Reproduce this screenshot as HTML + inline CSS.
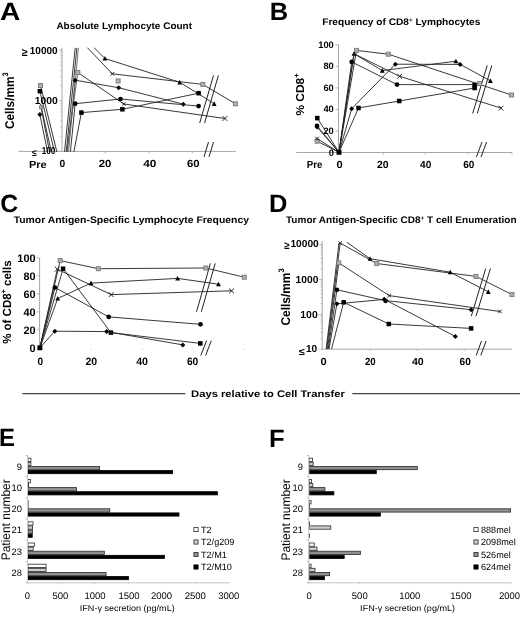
<!DOCTYPE html>
<html><head><meta charset="utf-8"><style>
html,body{margin:0;padding:0;background:#fff;}
svg{display:block;will-change:transform;}
text{font-family:"Liberation Sans",sans-serif;fill:#000;text-rendering:geometricPrecision;}
</style></head><body>
<svg width="520" height="617" viewBox="0 0 520 617">
<rect width="520" height="617" fill="#fff"/>
<line x1="62.0" y1="48.0" x2="62.0" y2="151.5" stroke="#a6a6a6" stroke-width="1"/>
<line x1="18.5" y1="151.4" x2="235.7" y2="151.4" stroke="#a6a6a6" stroke-width="1"/>
<line x1="59.0" y1="100.8" x2="62.0" y2="100.8" stroke="#a6a6a6" stroke-width="0.8"/>
<line x1="60.4" y1="85.6" x2="62.0" y2="85.6" stroke="#a6a6a6" stroke-width="0.8"/>
<line x1="60.4" y1="76.7" x2="62.0" y2="76.7" stroke="#a6a6a6" stroke-width="0.8"/>
<line x1="60.4" y1="70.3" x2="62.0" y2="70.3" stroke="#a6a6a6" stroke-width="0.8"/>
<line x1="60.4" y1="65.4" x2="62.0" y2="65.4" stroke="#a6a6a6" stroke-width="0.8"/>
<line x1="60.4" y1="61.4" x2="62.0" y2="61.4" stroke="#a6a6a6" stroke-width="0.8"/>
<line x1="60.4" y1="58.0" x2="62.0" y2="58.0" stroke="#a6a6a6" stroke-width="0.8"/>
<line x1="60.4" y1="55.1" x2="62.0" y2="55.1" stroke="#a6a6a6" stroke-width="0.8"/>
<line x1="60.4" y1="52.5" x2="62.0" y2="52.5" stroke="#a6a6a6" stroke-width="0.8"/>
<line x1="59.0" y1="151.4" x2="62.0" y2="151.4" stroke="#a6a6a6" stroke-width="0.8"/>
<line x1="60.4" y1="136.2" x2="62.0" y2="136.2" stroke="#a6a6a6" stroke-width="0.8"/>
<line x1="60.4" y1="127.3" x2="62.0" y2="127.3" stroke="#a6a6a6" stroke-width="0.8"/>
<line x1="60.4" y1="120.9" x2="62.0" y2="120.9" stroke="#a6a6a6" stroke-width="0.8"/>
<line x1="60.4" y1="116.0" x2="62.0" y2="116.0" stroke="#a6a6a6" stroke-width="0.8"/>
<line x1="60.4" y1="112.0" x2="62.0" y2="112.0" stroke="#a6a6a6" stroke-width="0.8"/>
<line x1="60.4" y1="108.6" x2="62.0" y2="108.6" stroke="#a6a6a6" stroke-width="0.8"/>
<line x1="60.4" y1="105.7" x2="62.0" y2="105.7" stroke="#a6a6a6" stroke-width="0.8"/>
<line x1="60.4" y1="103.1" x2="62.0" y2="103.1" stroke="#a6a6a6" stroke-width="0.8"/>
<line x1="59.0" y1="50.2" x2="62.0" y2="50.2" stroke="#a6a6a6" stroke-width="0.8"/>
<line x1="105.2" y1="151.4" x2="105.2" y2="153.5" stroke="#a6a6a6" stroke-width="0.8"/>
<line x1="148.9" y1="151.4" x2="148.9" y2="153.5" stroke="#a6a6a6" stroke-width="0.8"/>
<line x1="192.3" y1="151.4" x2="192.3" y2="153.5" stroke="#a6a6a6" stroke-width="0.8"/>
<line x1="204.0" y1="157.0" x2="208.5" y2="142.0" stroke="#222" stroke-width="1.0"/>
<line x1="209.0" y1="157.0" x2="213.5" y2="142.0" stroke="#222" stroke-width="1.0"/>
<line x1="199.7" y1="123.0" x2="213.5" y2="75.4" stroke="#222" stroke-width="1.0"/>
<line x1="204.6" y1="123.0" x2="218.4" y2="75.4" stroke="#222" stroke-width="1.0"/>
<polyline points="39.9,114.6 47.6,152.0" fill="none" stroke="#222" stroke-width="0.9"/>
<polyline points="41.1,107.3 49.6,152.0" fill="none" stroke="#222" stroke-width="0.9"/>
<polyline points="40.5,104.0 51.4,152.0" fill="none" stroke="#222" stroke-width="0.9"/>
<polyline points="39.9,91.2 54.5,152.0" fill="none" stroke="#222" stroke-width="0.9"/>
<polyline points="40.5,85.5 56.9,152.0" fill="none" stroke="#222" stroke-width="0.9"/>
<rect x="38.50" y="83.50" width="4.00" height="4.00" fill="#b0b0b0" stroke="#808080" stroke-width="1"/>
<rect x="37.65" y="88.95" width="4.50" height="4.50" fill="#000"/>
<rect x="39.60" y="105.80" width="3.00" height="3.00" fill="#b0b0b0" stroke="#808080" stroke-width="1"/>
<polygon points="39.90,112.10 42.40,114.60 39.90,117.10 37.40,114.60" fill="#000"/>
<polyline points="64.5,151.8 75.2,47.9" fill="none" stroke="#222" stroke-width="0.9"/>
<polyline points="66.2,151.8 76.9,47.9" fill="none" stroke="#222" stroke-width="0.9"/>
<polyline points="66.8,151.8 77.8,72.5" fill="none" stroke="#444" stroke-width="0.8"/>
<polyline points="67.4,151.8 75.2,80.2" fill="none" stroke="#444" stroke-width="0.8"/>
<polyline points="68.6,151.8 78.4,47.9" fill="none" stroke="#555" stroke-width="0.8"/>
<polyline points="70.4,151.8 75.2,103.7" fill="none" stroke="#222" stroke-width="0.9"/>
<polyline points="73.9,151.8 81.4,112.6" fill="none" stroke="#222" stroke-width="0.9"/>
<polyline points="94.2,47.7 104.9,58.5 179.7,82.3 198.6,93.8 214.2,103.8" fill="none" stroke="#222" stroke-width="0.9"/>
<polygon points="104.90,56.00 107.30,60.60 102.50,60.60" fill="#000"/>
<polygon points="179.70,79.80 182.10,84.40 177.30,84.40" fill="#000"/>
<polygon points="214.20,101.30 216.60,105.90 211.80,105.90" fill="#000"/>
<polyline points="87.4,47.7 112.3,73.8 202.8,84.4 235.4,103.8" fill="none" stroke="#222" stroke-width="0.9"/>
<path d="M110.50,72.00L114.10,75.60M114.10,72.00L110.50,75.60" stroke="#111" stroke-width="0.9"/>
<rect x="200.80" y="82.40" width="4.00" height="4.00" fill="#b0b0b0" stroke="#808080" stroke-width="1"/>
<rect x="233.40" y="101.80" width="4.00" height="4.00" fill="#b0b0b0" stroke="#808080" stroke-width="1"/>
<polyline points="77.8,72.5 123.8,104.0 224.9,118.5" fill="none" stroke="#222" stroke-width="0.9"/>
<rect x="75.80" y="70.50" width="4.00" height="4.00" fill="#b0b0b0" stroke="#808080" stroke-width="1"/>
<path d="M121.95,102.20L125.55,105.80M125.55,102.20L121.95,105.80" stroke="#111" stroke-width="0.9"/>
<path d="M222.50,116.10L227.30,120.90M227.30,116.10L222.50,120.90" stroke="#111" stroke-width="0.9"/>
<polyline points="75.2,80.2 118.6,87.7 183.3,104.2" fill="none" stroke="#222" stroke-width="0.9"/>
<polygon points="75.20,77.70 77.70,80.20 75.20,82.70 72.70,80.20" fill="#000"/>
<polygon points="118.60,85.20 121.10,87.70 118.60,90.20 116.10,87.70" fill="#000"/>
<polygon points="183.30,101.70 185.80,104.20 183.30,106.70 180.80,104.20" fill="#000"/>
<polyline points="75.2,103.7 120.5,99.0 198.6,106.1" fill="none" stroke="#222" stroke-width="0.9"/>
<circle cx="75.20" cy="103.70" r="2.35" fill="#000"/>
<circle cx="120.50" cy="99.00" r="2.35" fill="#000"/>
<circle cx="198.60" cy="106.10" r="2.35" fill="#000"/>
<polyline points="81.4,112.6 122.4,109.3 198.6,93.2" fill="none" stroke="#222" stroke-width="0.9"/>
<rect x="79.15" y="110.35" width="4.50" height="4.50" fill="#000"/>
<rect x="120.15" y="107.05" width="4.50" height="4.50" fill="#000"/>
<rect x="196.35" y="90.95" width="4.50" height="4.50" fill="#000"/>
<rect x="116.10" y="79.00" width="4.00" height="4.00" fill="#b0b0b0" stroke="#808080" stroke-width="1"/>
<line x1="338.5" y1="44.5" x2="338.5" y2="152.5" stroke="#a6a6a6" stroke-width="1"/>
<line x1="296.3" y1="152.5" x2="512.0" y2="152.5" stroke="#a6a6a6" stroke-width="1"/>
<line x1="335.5" y1="152.5" x2="338.5" y2="152.5" stroke="#a6a6a6" stroke-width="0.8"/>
<text x="333.8" y="155.5" font-size="9.3" font-weight="bold" text-anchor="end">0</text>
<line x1="335.5" y1="131.0" x2="338.5" y2="131.0" stroke="#a6a6a6" stroke-width="0.8"/>
<text x="333.8" y="133.98" font-size="9.3" font-weight="bold" text-anchor="end">20</text>
<line x1="335.5" y1="109.5" x2="338.5" y2="109.5" stroke="#a6a6a6" stroke-width="0.8"/>
<text x="333.8" y="112.46" font-size="9.3" font-weight="bold" text-anchor="end">40</text>
<line x1="335.5" y1="87.9" x2="338.5" y2="87.9" stroke="#a6a6a6" stroke-width="0.8"/>
<text x="333.8" y="90.94" font-size="9.3" font-weight="bold" text-anchor="end">60</text>
<line x1="335.5" y1="66.4" x2="338.5" y2="66.4" stroke="#a6a6a6" stroke-width="0.8"/>
<text x="333.8" y="69.42" font-size="9.3" font-weight="bold" text-anchor="end">80</text>
<line x1="335.5" y1="44.9" x2="338.5" y2="44.9" stroke="#a6a6a6" stroke-width="0.8"/>
<text x="333.8" y="47.9" font-size="9.3" font-weight="bold" text-anchor="end">100</text>
<line x1="383.5" y1="152.5" x2="383.5" y2="154.5" stroke="#a6a6a6" stroke-width="0.8"/>
<line x1="425.2" y1="152.5" x2="425.2" y2="154.5" stroke="#a6a6a6" stroke-width="0.8"/>
<line x1="467.9" y1="152.5" x2="467.9" y2="154.5" stroke="#a6a6a6" stroke-width="0.8"/>
<line x1="512.0" y1="152.5" x2="512.0" y2="154.5" stroke="#a6a6a6" stroke-width="0.8"/>
<line x1="476.4" y1="157.0" x2="482.0" y2="142.0" stroke="#222" stroke-width="1.0"/>
<line x1="481.0" y1="157.0" x2="486.6" y2="142.0" stroke="#222" stroke-width="1.0"/>
<line x1="472.7" y1="113.4" x2="487.2" y2="65.4" stroke="#222" stroke-width="1.0"/>
<line x1="477.3" y1="113.4" x2="491.8" y2="65.4" stroke="#222" stroke-width="1.0"/>
<polyline points="317.1,141.2 339.0,152.3 356.5,50.4 388.3,54.2 511.5,95.0" fill="none" stroke="#222" stroke-width="0.9"/>
<rect x="315.10" y="139.20" width="4.00" height="4.00" fill="#b0b0b0" stroke="#808080" stroke-width="1"/>
<rect x="354.50" y="48.40" width="4.00" height="4.00" fill="#b0b0b0" stroke="#808080" stroke-width="1"/>
<rect x="386.30" y="52.20" width="4.00" height="4.00" fill="#b0b0b0" stroke="#808080" stroke-width="1"/>
<rect x="509.50" y="93.00" width="4.00" height="4.00" fill="#b0b0b0" stroke="#808080" stroke-width="1"/>
<polyline points="339.0,152.3 354.0,53.7 382.3,70.6 455.9,61.2 460.2,64.4 490.4,80.8" fill="none" stroke="#222" stroke-width="0.9"/>
<polygon points="354.00,51.20 356.40,55.80 351.60,55.80" fill="#000"/>
<polygon points="382.30,68.10 384.70,72.70 379.90,72.70" fill="#000"/>
<polygon points="455.90,58.70 458.30,63.30 453.50,63.30" fill="#000"/>
<polygon points="490.40,78.30 492.80,82.90 488.00,82.90" fill="#000"/>
<polyline points="317.0,138.5 339.0,152.3 354.0,53.7 399.6,76.3 501.0,108.1" fill="none" stroke="#222" stroke-width="0.9"/>
<path d="M315.20,136.70L318.80,140.30M318.80,136.70L315.20,140.30" stroke="#111" stroke-width="0.9"/>
<path d="M397.20,73.90L402.00,78.70M402.00,73.90L397.20,78.70" stroke="#111" stroke-width="0.9"/>
<path d="M498.60,105.70L503.40,110.50M503.40,105.70L498.60,110.50" stroke="#111" stroke-width="0.9"/>
<polyline points="317.0,125.8 339.0,152.3 351.7,61.9 397.0,84.6 474.6,84.6" fill="none" stroke="#222" stroke-width="0.9"/>
<circle cx="317.00" cy="125.80" r="2.35" fill="#000"/>
<circle cx="351.70" cy="61.90" r="2.35" fill="#000"/>
<circle cx="397.00" cy="84.60" r="2.35" fill="#000"/>
<polyline points="317.1,127.0 339.0,152.3 351.7,108.7 395.4,64.2 460.2,64.4" fill="none" stroke="#222" stroke-width="0.9"/>
<polygon points="317.10,124.50 319.60,127.00 317.10,129.50 314.60,127.00" fill="#000"/>
<polygon points="351.70,106.20 354.20,108.70 351.70,111.20 349.20,108.70" fill="#000"/>
<polygon points="395.40,61.70 397.90,64.20 395.40,66.70 392.90,64.20" fill="#000"/>
<polygon points="460.20,61.90 462.70,64.40 460.20,66.90 457.70,64.40" fill="#000"/>
<polyline points="317.3,118.1 339.0,152.3 358.5,108.0 399.2,101.0 474.6,88.0" fill="none" stroke="#222" stroke-width="0.9"/>
<rect x="315.05" y="115.85" width="4.50" height="4.50" fill="#000"/>
<rect x="356.25" y="105.75" width="4.50" height="4.50" fill="#000"/>
<rect x="396.95" y="98.75" width="4.50" height="4.50" fill="#000"/>
<rect x="472.35" y="85.75" width="4.50" height="4.50" fill="#000"/>
<rect x="472.35" y="82.75" width="4.50" height="4.50" fill="#000"/>
<rect x="477.60" y="81.50" width="4.00" height="4.00" fill="#b0b0b0" stroke="#808080" stroke-width="1"/>
<rect x="336.52" y="149.83" width="4.95" height="4.95" fill="#000"/>
<line x1="39.6" y1="258.0" x2="39.6" y2="348.0" stroke="#a6a6a6" stroke-width="1"/>
<line x1="36.8" y1="347.8" x2="39.6" y2="347.8" stroke="#a6a6a6" stroke-width="0.8"/>
<text x="35.5" y="351.8" font-size="10.9" font-weight="bold" text-anchor="end">0</text>
<line x1="36.8" y1="329.8" x2="39.6" y2="329.8" stroke="#a6a6a6" stroke-width="0.8"/>
<text x="35.5" y="333.8" font-size="10.9" font-weight="bold" text-anchor="end">20</text>
<line x1="36.8" y1="311.8" x2="39.6" y2="311.8" stroke="#a6a6a6" stroke-width="0.8"/>
<text x="35.5" y="315.8" font-size="10.9" font-weight="bold" text-anchor="end">40</text>
<line x1="36.8" y1="293.8" x2="39.6" y2="293.8" stroke="#a6a6a6" stroke-width="0.8"/>
<text x="35.5" y="297.8" font-size="10.9" font-weight="bold" text-anchor="end">60</text>
<line x1="36.8" y1="275.8" x2="39.6" y2="275.8" stroke="#a6a6a6" stroke-width="0.8"/>
<text x="35.5" y="279.8" font-size="10.9" font-weight="bold" text-anchor="end">80</text>
<line x1="36.8" y1="257.8" x2="39.6" y2="257.8" stroke="#a6a6a6" stroke-width="0.8"/>
<text x="35.5" y="261.8" font-size="10.9" font-weight="bold" text-anchor="end">100</text>
<line x1="90.8" y1="348.5" x2="90.8" y2="350.0" stroke="#ccc" stroke-width="0.8"/>
<line x1="142.6" y1="348.5" x2="142.6" y2="350.0" stroke="#ccc" stroke-width="0.8"/>
<line x1="192.3" y1="348.5" x2="192.3" y2="350.0" stroke="#ccc" stroke-width="0.8"/>
<line x1="244.1" y1="348.5" x2="244.1" y2="350.0" stroke="#ccc" stroke-width="0.8"/>
<line x1="200.8" y1="355.5" x2="206.5" y2="340.7" stroke="#222" stroke-width="1.0"/>
<line x1="205.6" y1="355.5" x2="211.3" y2="340.7" stroke="#222" stroke-width="1.0"/>
<line x1="196.5" y1="311.8" x2="210.4" y2="263.4" stroke="#222" stroke-width="1.0"/>
<line x1="201.3" y1="311.8" x2="215.2" y2="263.4" stroke="#222" stroke-width="1.0"/>
<polyline points="39.9,347.8 60.2,260.6 98.3,268.7 205.8,268.0 244.3,277.2" fill="none" stroke="#222" stroke-width="0.9"/>
<rect x="58.20" y="258.60" width="4.00" height="4.00" fill="#b0b0b0" stroke="#808080" stroke-width="1"/>
<rect x="96.30" y="266.70" width="4.00" height="4.00" fill="#b0b0b0" stroke="#808080" stroke-width="1"/>
<rect x="203.80" y="266.00" width="4.00" height="4.00" fill="#b0b0b0" stroke="#808080" stroke-width="1"/>
<rect x="242.30" y="275.20" width="4.00" height="4.00" fill="#b0b0b0" stroke="#808080" stroke-width="1"/>
<polyline points="39.9,347.8 63.1,268.7 110.9,332.6 200.3,343.4" fill="none" stroke="#222" stroke-width="0.9"/>
<rect x="60.85" y="266.45" width="4.50" height="4.50" fill="#000"/>
<rect x="108.65" y="330.35" width="4.50" height="4.50" fill="#000"/>
<rect x="198.05" y="341.15" width="4.50" height="4.50" fill="#000"/>
<polyline points="39.9,347.8 57.3,269.2 111.2,294.6 231.6,290.8" fill="none" stroke="#222" stroke-width="0.9"/>
<path d="M54.90,266.80L59.70,271.60M59.70,266.80L54.90,271.60" stroke="#111" stroke-width="0.9"/>
<path d="M108.80,292.20L113.60,297.00M113.60,292.20L108.80,297.00" stroke="#111" stroke-width="0.9"/>
<path d="M229.20,288.40L234.00,293.20M234.00,288.40L229.20,293.20" stroke="#111" stroke-width="0.9"/>
<polyline points="39.9,347.8 57.7,298.5 91.0,283.1 177.6,278.4 218.5,284.2" fill="none" stroke="#222" stroke-width="0.9"/>
<polygon points="57.70,296.00 60.10,300.60 55.30,300.60" fill="#000"/>
<polygon points="91.00,280.60 93.40,285.20 88.60,285.20" fill="#000"/>
<polygon points="177.60,275.90 180.00,280.50 175.20,280.50" fill="#000"/>
<polygon points="218.50,281.70 220.90,286.30 216.10,286.30" fill="#000"/>
<polyline points="39.9,347.8 55.0,287.5 108.7,316.9 200.5,324.3" fill="none" stroke="#222" stroke-width="0.9"/>
<circle cx="55.00" cy="287.50" r="2.35" fill="#000"/>
<circle cx="108.70" cy="316.90" r="2.35" fill="#000"/>
<circle cx="200.50" cy="324.30" r="2.35" fill="#000"/>
<polyline points="39.9,347.8 54.8,331.2 106.6,331.6 182.8,344.9" fill="none" stroke="#222" stroke-width="0.9"/>
<polygon points="54.80,328.70 57.30,331.20 54.80,333.70 52.30,331.20" fill="#000"/>
<polygon points="106.60,329.10 109.10,331.60 106.60,334.10 104.10,331.60" fill="#000"/>
<polygon points="182.80,342.40 185.30,344.90 182.80,347.40 180.30,344.90" fill="#000"/>
<rect x="37.42" y="345.32" width="4.95" height="4.95" fill="#000"/>
<line x1="322.2" y1="241.0" x2="322.2" y2="349.5" stroke="#a6a6a6" stroke-width="1"/>
<line x1="322.2" y1="349.2" x2="512.0" y2="349.2" stroke="#a6a6a6" stroke-width="1"/>
<line x1="319.2" y1="279.4" x2="322.2" y2="279.4" stroke="#a6a6a6" stroke-width="0.8"/>
<line x1="320.6" y1="268.8" x2="322.2" y2="268.8" stroke="#a6a6a6" stroke-width="0.8"/>
<line x1="320.6" y1="262.7" x2="322.2" y2="262.7" stroke="#a6a6a6" stroke-width="0.8"/>
<line x1="320.6" y1="258.3" x2="322.2" y2="258.3" stroke="#a6a6a6" stroke-width="0.8"/>
<line x1="320.6" y1="254.9" x2="322.2" y2="254.9" stroke="#a6a6a6" stroke-width="0.8"/>
<line x1="320.6" y1="252.2" x2="322.2" y2="252.2" stroke="#a6a6a6" stroke-width="0.8"/>
<line x1="320.6" y1="249.8" x2="322.2" y2="249.8" stroke="#a6a6a6" stroke-width="0.8"/>
<line x1="320.6" y1="247.8" x2="322.2" y2="247.8" stroke="#a6a6a6" stroke-width="0.8"/>
<line x1="320.6" y1="246.0" x2="322.2" y2="246.0" stroke="#a6a6a6" stroke-width="0.8"/>
<line x1="319.2" y1="314.3" x2="322.2" y2="314.3" stroke="#a6a6a6" stroke-width="0.8"/>
<line x1="320.6" y1="303.8" x2="322.2" y2="303.8" stroke="#a6a6a6" stroke-width="0.8"/>
<line x1="320.6" y1="297.7" x2="322.2" y2="297.7" stroke="#a6a6a6" stroke-width="0.8"/>
<line x1="320.6" y1="293.3" x2="322.2" y2="293.3" stroke="#a6a6a6" stroke-width="0.8"/>
<line x1="320.6" y1="289.9" x2="322.2" y2="289.9" stroke="#a6a6a6" stroke-width="0.8"/>
<line x1="320.6" y1="287.1" x2="322.2" y2="287.1" stroke="#a6a6a6" stroke-width="0.8"/>
<line x1="320.6" y1="284.8" x2="322.2" y2="284.8" stroke="#a6a6a6" stroke-width="0.8"/>
<line x1="320.6" y1="282.8" x2="322.2" y2="282.8" stroke="#a6a6a6" stroke-width="0.8"/>
<line x1="320.6" y1="281.0" x2="322.2" y2="281.0" stroke="#a6a6a6" stroke-width="0.8"/>
<line x1="319.2" y1="349.3" x2="322.2" y2="349.3" stroke="#a6a6a6" stroke-width="0.8"/>
<line x1="320.6" y1="338.8" x2="322.2" y2="338.8" stroke="#a6a6a6" stroke-width="0.8"/>
<line x1="320.6" y1="332.6" x2="322.2" y2="332.6" stroke="#a6a6a6" stroke-width="0.8"/>
<line x1="320.6" y1="328.3" x2="322.2" y2="328.3" stroke="#a6a6a6" stroke-width="0.8"/>
<line x1="320.6" y1="324.9" x2="322.2" y2="324.9" stroke="#a6a6a6" stroke-width="0.8"/>
<line x1="320.6" y1="322.1" x2="322.2" y2="322.1" stroke="#a6a6a6" stroke-width="0.8"/>
<line x1="320.6" y1="319.8" x2="322.2" y2="319.8" stroke="#a6a6a6" stroke-width="0.8"/>
<line x1="320.6" y1="317.7" x2="322.2" y2="317.7" stroke="#a6a6a6" stroke-width="0.8"/>
<line x1="320.6" y1="315.9" x2="322.2" y2="315.9" stroke="#a6a6a6" stroke-width="0.8"/>
<line x1="319.2" y1="244.4" x2="322.2" y2="244.4" stroke="#a6a6a6" stroke-width="0.8"/>
<line x1="370.0" y1="349.2" x2="370.0" y2="351.0" stroke="#a6a6a6" stroke-width="0.8"/>
<line x1="417.5" y1="349.2" x2="417.5" y2="351.0" stroke="#a6a6a6" stroke-width="0.8"/>
<line x1="464.2" y1="349.2" x2="464.2" y2="351.0" stroke="#a6a6a6" stroke-width="0.8"/>
<line x1="476.2" y1="355.4" x2="481.5" y2="341.0" stroke="#222" stroke-width="1.0"/>
<line x1="480.8" y1="355.4" x2="486.1" y2="341.0" stroke="#222" stroke-width="1.0"/>
<line x1="471.3" y1="316.2" x2="485.7" y2="268.6" stroke="#222" stroke-width="1.0"/>
<line x1="476.0" y1="316.2" x2="490.4" y2="268.6" stroke="#222" stroke-width="1.0"/>
<polyline points="326.7,349.0 340.2,243.1" fill="none" stroke="#222" stroke-width="0.9"/>
<polyline points="327.5,349.0 338.8,262.9" fill="none" stroke="#222" stroke-width="0.9"/>
<polyline points="328.3,349.0 336.9,289.8" fill="none" stroke="#222" stroke-width="0.9"/>
<polyline points="329.0,349.0 336.9,303.8" fill="none" stroke="#222" stroke-width="0.9"/>
<polyline points="331.5,349.0 343.7,302.3" fill="none" stroke="#222" stroke-width="0.9"/>
<polyline points="326.2,349.0 339.0,243.0" fill="none" stroke="#222" stroke-width="0.9"/>
<polyline points="340.2,243.1 376.7,263.5 476.0,276.4 512.0,294.6" fill="none" stroke="#222" stroke-width="0.9"/>
<path d="M338.40,241.30L342.00,244.90M342.00,241.30L338.40,244.90" stroke="#111" stroke-width="0.9"/>
<rect x="374.70" y="261.50" width="4.00" height="4.00" fill="#b0b0b0" stroke="#808080" stroke-width="1"/>
<rect x="474.00" y="274.40" width="4.00" height="4.00" fill="#b0b0b0" stroke="#808080" stroke-width="1"/>
<rect x="510.00" y="292.60" width="4.00" height="4.00" fill="#b0b0b0" stroke="#808080" stroke-width="1"/>
<polyline points="346.9,242.3 370.0,258.7 450.2,272.2 488.3,291.8" fill="none" stroke="#222" stroke-width="0.9"/>
<polygon points="370.00,256.20 372.40,260.80 367.60,260.80" fill="#000"/>
<polygon points="450.20,269.70 452.60,274.30 447.80,274.30" fill="#000"/>
<polygon points="488.30,289.30 490.70,293.90 485.90,293.90" fill="#000"/>
<polyline points="338.8,262.9 389.2,295.6 499.9,311.5" fill="none" stroke="#222" stroke-width="0.9"/>
<rect x="336.80" y="260.90" width="4.00" height="4.00" fill="#b0b0b0" stroke="#808080" stroke-width="1"/>
<path d="M387.40,293.80L391.00,297.40M391.00,293.80L387.40,297.40" stroke="#111" stroke-width="0.9"/>
<path d="M498.10,309.70L501.70,313.30M501.70,309.70L498.10,313.30" stroke="#111" stroke-width="0.9"/>
<polyline points="336.9,289.8 385.4,300.6 471.1,309.7" fill="none" stroke="#222" stroke-width="0.9"/>
<circle cx="336.90" cy="289.80" r="2.35" fill="#000"/>
<circle cx="385.60" cy="300.80" r="2.35" fill="#000"/>
<polygon points="471.10,307.20 473.60,309.70 471.10,312.20 468.60,309.70" fill="#000"/>
<polyline points="336.9,303.8 384.4,299.4 455.4,336.5" fill="none" stroke="#222" stroke-width="0.9"/>
<polygon points="336.90,301.30 339.40,303.80 336.90,306.30 334.40,303.80" fill="#000"/>
<polygon points="384.20,296.70 386.70,299.20 384.20,301.70 381.70,299.20" fill="#000"/>
<polygon points="455.40,334.00 457.90,336.50 455.40,339.00 452.90,336.50" fill="#000"/>
<polyline points="343.7,302.3 388.8,324.0 471.1,328.4" fill="none" stroke="#222" stroke-width="0.9"/>
<rect x="341.45" y="300.05" width="4.50" height="4.50" fill="#000"/>
<rect x="386.55" y="321.75" width="4.50" height="4.50" fill="#000"/>
<rect x="468.85" y="326.15" width="4.50" height="4.50" fill="#000"/>
<line x1="22.4" y1="393.6" x2="185.3" y2="393.6" stroke="#444" stroke-width="1.2"/>
<line x1="352.3" y1="393.6" x2="520.0" y2="393.6" stroke="#444" stroke-width="1.2"/>
<line x1="25.7" y1="455.5" x2="27.5" y2="455.5" stroke="#a6a6a6" stroke-width="0.8"/>
<rect x="27.9" y="458.2" width="3.0" height="3.3" fill="#fff" stroke="#2a2a2a" stroke-width="0.8"/>
<rect x="27.9" y="462.3" width="3.0" height="3.3" fill="#cfcfcf" stroke="#2a2a2a" stroke-width="0.8"/>
<rect x="27.9" y="466.4" width="71.7" height="3.3" fill="#8f8f8f" stroke="#2a2a2a" stroke-width="0.8"/>
<rect x="27.9" y="470.5" width="144.7" height="3.2" fill="#000" stroke="#000" stroke-width="0.8"/>
<text x="21.9" y="469.8" font-size="9.4" font-weight="normal" text-anchor="end">9</text>
<line x1="25.7" y1="476.7" x2="27.5" y2="476.7" stroke="#a6a6a6" stroke-width="0.8"/>
<rect x="27.9" y="479.4" width="2.5" height="3.3" fill="#fff" stroke="#2a2a2a" stroke-width="0.8"/>
<rect x="27.9" y="483.5" width="0.7" height="3.3" fill="#cfcfcf" stroke="#2a2a2a" stroke-width="0.8"/>
<rect x="27.9" y="487.6" width="48.5" height="3.3" fill="#8f8f8f" stroke="#2a2a2a" stroke-width="0.8"/>
<rect x="27.9" y="491.7" width="189.5" height="3.2" fill="#000" stroke="#000" stroke-width="0.8"/>
<text x="21.9" y="491.0" font-size="9.4" font-weight="normal" text-anchor="end">10</text>
<line x1="25.7" y1="497.9" x2="27.5" y2="497.9" stroke="#a6a6a6" stroke-width="0.8"/>
<rect x="27.9" y="500.6" width="0.2" height="3.3" fill="#fff" stroke="#2a2a2a" stroke-width="0.8"/>
<rect x="27.9" y="504.7" width="0.2" height="3.3" fill="#cfcfcf" stroke="#2a2a2a" stroke-width="0.8"/>
<rect x="27.9" y="508.8" width="81.9" height="3.3" fill="#8f8f8f" stroke="#2a2a2a" stroke-width="0.8"/>
<rect x="27.9" y="512.9" width="151.1" height="3.2" fill="#000" stroke="#000" stroke-width="0.8"/>
<text x="21.9" y="512.2" font-size="9.4" font-weight="normal" text-anchor="end">20</text>
<line x1="25.7" y1="519.1" x2="27.5" y2="519.1" stroke="#a6a6a6" stroke-width="0.8"/>
<rect x="27.9" y="521.8" width="5.1" height="3.3" fill="#fff" stroke="#2a2a2a" stroke-width="0.8"/>
<rect x="27.9" y="525.9" width="4.7" height="3.3" fill="#cfcfcf" stroke="#2a2a2a" stroke-width="0.8"/>
<rect x="27.9" y="530.0" width="4.7" height="3.3" fill="#8f8f8f" stroke="#2a2a2a" stroke-width="0.8"/>
<rect x="27.9" y="534.1" width="4.3" height="3.2" fill="#000" stroke="#000" stroke-width="0.8"/>
<text x="21.9" y="533.4" font-size="9.4" font-weight="normal" text-anchor="end">21</text>
<line x1="25.7" y1="540.3" x2="27.5" y2="540.3" stroke="#a6a6a6" stroke-width="0.8"/>
<rect x="27.9" y="543.0" width="6.5" height="3.3" fill="#fff" stroke="#2a2a2a" stroke-width="0.8"/>
<rect x="27.9" y="547.1" width="5.3" height="3.3" fill="#cfcfcf" stroke="#2a2a2a" stroke-width="0.8"/>
<rect x="27.9" y="551.2" width="76.4" height="3.3" fill="#8f8f8f" stroke="#2a2a2a" stroke-width="0.8"/>
<rect x="27.9" y="555.3" width="136.6" height="3.2" fill="#000" stroke="#000" stroke-width="0.8"/>
<text x="21.9" y="554.6" font-size="9.4" font-weight="normal" text-anchor="end">23</text>
<line x1="25.7" y1="561.5" x2="27.5" y2="561.5" stroke="#a6a6a6" stroke-width="0.8"/>
<rect x="27.9" y="564.2" width="18.2" height="3.3" fill="#fff" stroke="#2a2a2a" stroke-width="0.8"/>
<rect x="27.9" y="568.3" width="18.2" height="3.3" fill="#cfcfcf" stroke="#2a2a2a" stroke-width="0.8"/>
<rect x="27.9" y="572.4" width="78.2" height="3.3" fill="#8f8f8f" stroke="#2a2a2a" stroke-width="0.8"/>
<rect x="27.9" y="576.5" width="100.6" height="3.2" fill="#000" stroke="#000" stroke-width="0.8"/>
<text x="21.9" y="575.8" font-size="9.4" font-weight="normal" text-anchor="end">28</text>
<line x1="25.7" y1="582.7" x2="27.5" y2="582.7" stroke="#a6a6a6" stroke-width="0.8"/>
<line x1="27.5" y1="455.0" x2="27.5" y2="583.0" stroke="#c8c8c8" stroke-width="1"/>
<line x1="27.5" y1="582.8" x2="229.3" y2="582.8" stroke="#c4c4c4" stroke-width="1"/>
<line x1="28.1" y1="582.8" x2="28.1" y2="584.5" stroke="#c4c4c4" stroke-width="0.8"/>
<text x="27.5" y="598.6" font-size="9.5" font-weight="normal" text-anchor="middle">0</text>
<line x1="61.5" y1="582.8" x2="61.5" y2="584.5" stroke="#c4c4c4" stroke-width="0.8"/>
<text x="60.4" y="598.6" font-size="9.5" font-weight="normal" text-anchor="middle">500</text>
<line x1="95.0" y1="582.8" x2="95.0" y2="584.5" stroke="#c4c4c4" stroke-width="0.8"/>
<text x="95" y="598.6" font-size="9.5" font-weight="normal" text-anchor="middle">1000</text>
<line x1="128.5" y1="582.8" x2="128.5" y2="584.5" stroke="#c4c4c4" stroke-width="0.8"/>
<text x="129" y="598.6" font-size="9.5" font-weight="normal" text-anchor="middle">1500</text>
<line x1="162.0" y1="582.8" x2="162.0" y2="584.5" stroke="#c4c4c4" stroke-width="0.8"/>
<text x="161.6" y="598.6" font-size="9.5" font-weight="normal" text-anchor="middle">2000</text>
<line x1="195.5" y1="582.8" x2="195.5" y2="584.5" stroke="#c4c4c4" stroke-width="0.8"/>
<text x="195.25" y="598.6" font-size="9.5" font-weight="normal" text-anchor="middle">2500</text>
<line x1="229.0" y1="582.8" x2="229.0" y2="584.5" stroke="#c4c4c4" stroke-width="0.8"/>
<text x="228.75" y="598.6" font-size="9.5" font-weight="normal" text-anchor="middle">3000</text>
<rect x="193.9" y="527.4" width="4.2" height="4.2" fill="#fff" stroke="#2a2a2a" stroke-width="0.8"/>
<text x="201.0" y="532.7" font-size="9.1" font-weight="normal" text-anchor="start">T2</text>
<rect x="193.9" y="539.9" width="4.2" height="4.2" fill="#cfcfcf" stroke="#2a2a2a" stroke-width="0.8"/>
<text x="201.0" y="545.2" font-size="9.1" font-weight="normal" text-anchor="start">T2/g209</text>
<rect x="193.9" y="552.4" width="4.2" height="4.2" fill="#8f8f8f" stroke="#2a2a2a" stroke-width="0.8"/>
<text x="201.0" y="557.7" font-size="9.1" font-weight="normal" text-anchor="start">T2/M1</text>
<rect x="193.9" y="564.9" width="4.2" height="4.2" fill="#000" stroke="#000" stroke-width="0.8"/>
<text x="201.0" y="570.2" font-size="9.1" font-weight="normal" text-anchor="start">T2/M10</text>
<line x1="307.0" y1="455.5" x2="308.8" y2="455.5" stroke="#a6a6a6" stroke-width="0.8"/>
<rect x="309.2" y="458.2" width="3.4" height="3.3" fill="#fff" stroke="#2a2a2a" stroke-width="0.8"/>
<rect x="309.2" y="462.3" width="4.0" height="3.3" fill="#cfcfcf" stroke="#2a2a2a" stroke-width="0.8"/>
<rect x="309.2" y="466.4" width="108.1" height="3.3" fill="#8f8f8f" stroke="#2a2a2a" stroke-width="0.8"/>
<rect x="309.2" y="470.5" width="67.1" height="3.2" fill="#000" stroke="#000" stroke-width="0.8"/>
<text x="302.9" y="469.8" font-size="9.4" font-weight="normal" text-anchor="end">9</text>
<line x1="307.0" y1="476.7" x2="308.8" y2="476.7" stroke="#a6a6a6" stroke-width="0.8"/>
<rect x="309.2" y="479.4" width="2.3" height="3.3" fill="#fff" stroke="#2a2a2a" stroke-width="0.8"/>
<rect x="309.2" y="483.5" width="3.6" height="3.3" fill="#cfcfcf" stroke="#2a2a2a" stroke-width="0.8"/>
<rect x="309.2" y="487.6" width="15.7" height="3.3" fill="#8f8f8f" stroke="#2a2a2a" stroke-width="0.8"/>
<rect x="309.2" y="491.7" width="24.7" height="3.2" fill="#000" stroke="#000" stroke-width="0.8"/>
<text x="302.9" y="491.0" font-size="9.4" font-weight="normal" text-anchor="end">10</text>
<line x1="307.0" y1="497.9" x2="308.8" y2="497.9" stroke="#a6a6a6" stroke-width="0.8"/>
<rect x="309.2" y="500.6" width="1.9" height="3.3" fill="#fff" stroke="#2a2a2a" stroke-width="0.8"/>
<rect x="309.2" y="504.7" width="0.4" height="3.3" fill="#cfcfcf" stroke="#2a2a2a" stroke-width="0.8"/>
<rect x="309.2" y="508.8" width="201.4" height="3.3" fill="#8f8f8f" stroke="#2a2a2a" stroke-width="0.8"/>
<rect x="309.2" y="512.9" width="71.2" height="3.2" fill="#000" stroke="#000" stroke-width="0.8"/>
<text x="302.9" y="512.2" font-size="9.4" font-weight="normal" text-anchor="end">20</text>
<line x1="307.0" y1="519.1" x2="308.8" y2="519.1" stroke="#a6a6a6" stroke-width="0.8"/>
<rect x="309.2" y="521.8" width="0.4" height="3.3" fill="#fff" stroke="#2a2a2a" stroke-width="0.8"/>
<rect x="309.2" y="525.9" width="21.6" height="3.3" fill="#cfcfcf" stroke="#2a2a2a" stroke-width="0.8"/>
<rect x="309.2" y="534.1" width="0.2" height="3.2" fill="#000" stroke="#000" stroke-width="0.8"/>
<text x="302.9" y="533.4" font-size="9.4" font-weight="normal" text-anchor="end">21</text>
<line x1="307.0" y1="540.3" x2="308.8" y2="540.3" stroke="#a6a6a6" stroke-width="0.8"/>
<rect x="309.2" y="543.0" width="5.0" height="3.3" fill="#fff" stroke="#2a2a2a" stroke-width="0.8"/>
<rect x="309.2" y="547.1" width="7.8" height="3.3" fill="#cfcfcf" stroke="#2a2a2a" stroke-width="0.8"/>
<rect x="309.2" y="551.2" width="51.2" height="3.3" fill="#8f8f8f" stroke="#2a2a2a" stroke-width="0.8"/>
<rect x="309.2" y="555.3" width="35.0" height="3.2" fill="#000" stroke="#000" stroke-width="0.8"/>
<text x="302.9" y="554.6" font-size="9.4" font-weight="normal" text-anchor="end">23</text>
<line x1="307.0" y1="561.5" x2="308.8" y2="561.5" stroke="#a6a6a6" stroke-width="0.8"/>
<rect x="309.2" y="564.2" width="1.9" height="3.3" fill="#fff" stroke="#2a2a2a" stroke-width="0.8"/>
<rect x="309.2" y="568.3" width="5.8" height="3.3" fill="#cfcfcf" stroke="#2a2a2a" stroke-width="0.8"/>
<rect x="309.2" y="572.4" width="20.4" height="3.3" fill="#8f8f8f" stroke="#2a2a2a" stroke-width="0.8"/>
<rect x="309.2" y="576.5" width="15.3" height="3.2" fill="#000" stroke="#000" stroke-width="0.8"/>
<text x="302.9" y="575.8" font-size="9.4" font-weight="normal" text-anchor="end">28</text>
<line x1="307.0" y1="582.7" x2="308.8" y2="582.7" stroke="#a6a6a6" stroke-width="0.8"/>
<line x1="308.8" y1="455.0" x2="308.8" y2="583.0" stroke="#c8c8c8" stroke-width="1"/>
<line x1="308.8" y1="582.8" x2="511.6" y2="582.8" stroke="#c4c4c4" stroke-width="1"/>
<line x1="308.8" y1="582.8" x2="308.8" y2="584.5" stroke="#c4c4c4" stroke-width="0.8"/>
<text x="309.1" y="598.6" font-size="9.5" font-weight="normal" text-anchor="middle">0</text>
<line x1="359.5" y1="582.8" x2="359.5" y2="584.5" stroke="#c4c4c4" stroke-width="0.8"/>
<text x="359.75" y="598.6" font-size="9.5" font-weight="normal" text-anchor="middle">500</text>
<line x1="410.2" y1="582.8" x2="410.2" y2="584.5" stroke="#c4c4c4" stroke-width="0.8"/>
<text x="409.75" y="598.6" font-size="9.5" font-weight="normal" text-anchor="middle">1000</text>
<line x1="460.9" y1="582.8" x2="460.9" y2="584.5" stroke="#c4c4c4" stroke-width="0.8"/>
<text x="460.9" y="598.6" font-size="9.5" font-weight="normal" text-anchor="middle">1500</text>
<line x1="511.6" y1="582.8" x2="511.6" y2="584.5" stroke="#c4c4c4" stroke-width="0.8"/>
<text x="509.6" y="598.6" font-size="9.5" font-weight="normal" text-anchor="middle">2000</text>
<rect x="473.9" y="527.4" width="4.2" height="4.2" fill="#fff" stroke="#2a2a2a" stroke-width="0.8"/>
<text x="481.0" y="532.7" font-size="9.1" font-weight="normal" text-anchor="start">888mel</text>
<rect x="473.9" y="539.9" width="4.2" height="4.2" fill="#cfcfcf" stroke="#2a2a2a" stroke-width="0.8"/>
<text x="481.0" y="545.2" font-size="9.1" font-weight="normal" text-anchor="start">2098mel</text>
<rect x="473.9" y="552.4" width="4.2" height="4.2" fill="#8f8f8f" stroke="#2a2a2a" stroke-width="0.8"/>
<text x="481.0" y="557.7" font-size="9.1" font-weight="normal" text-anchor="start">526mel</text>
<rect x="473.9" y="564.9" width="4.2" height="4.2" fill="#000" stroke="#000" stroke-width="0.8"/>
<text x="481.0" y="570.2" font-size="9.1" font-weight="normal" text-anchor="start">624mel</text>
<text x="-0.12" y="19.70" font-size="25" font-weight="bold" textLength="20.32" lengthAdjust="spacingAndGlyphs">A</text>
<text x="269.86" y="19.90" font-size="25" font-weight="bold" textLength="18.42" lengthAdjust="spacingAndGlyphs">B</text>
<text x="0.21" y="212.30" font-size="25" font-weight="bold" textLength="17.95" lengthAdjust="spacingAndGlyphs">C</text>
<text x="269.06" y="211.90" font-size="25" font-weight="bold" textLength="18.42" lengthAdjust="spacingAndGlyphs">D</text>
<text x="-0.91" y="446.00" font-size="25" font-weight="bold" textLength="15.97" lengthAdjust="spacingAndGlyphs">E</text>
<text x="268.95" y="447.20" font-size="25" font-weight="bold" textLength="15.66" lengthAdjust="spacingAndGlyphs">F</text>
<text x="56.40" y="28.70" font-size="9.6" font-weight="bold" textLength="135.64" lengthAdjust="spacingAndGlyphs">Absolute Lymphocyte Count</text>
<text x="322.24" y="25.20" font-size="9.6" font-weight="bold" textLength="158.12" lengthAdjust="spacingAndGlyphs">Frequency of CD8<tspan font-size="6" dy="-3.6">+</tspan><tspan dy="3.6"> Lymphocytes</tspan></text>
<text x="13.65" y="222.80" font-size="9.6" font-weight="bold" textLength="235.40" lengthAdjust="spacingAndGlyphs">Tumor Antigen-Specific Lymphocyte Frequency</text>
<text x="286.00" y="223.30" font-size="9.6" font-weight="bold" textLength="230.52" lengthAdjust="spacingAndGlyphs">Tumor Antigen-Specific CD8<tspan font-size="6" dy="-3.6">+</tspan><tspan dy="3.6"> T cell Enumeration</tspan></text>
<text x="191.13" y="397.40" font-size="9.6" font-weight="bold" textLength="153.64" lengthAdjust="spacingAndGlyphs">Days relative to Cell Transfer</text>
<text transform="translate(13.60,129.10) rotate(-90)" font-size="12.7" font-weight="bold" textLength="56.73" lengthAdjust="spacingAndGlyphs">Cells/mm<tspan font-size="8" dy="-5.5">3</tspan></text>
<text transform="translate(304.00,115.60) rotate(-90)" font-size="11.5" font-weight="bold" textLength="42.42" lengthAdjust="spacingAndGlyphs">% CD8<tspan font-size="7.5" dy="-5">+</tspan></text>
<text transform="translate(10.80,343.80) rotate(-90)" font-size="11.8" font-weight="bold" textLength="83.37" lengthAdjust="spacingAndGlyphs">% of CD8<tspan font-size="7.5" dy="-5">+</tspan><tspan dy="5"> cells</tspan></text>
<text transform="translate(289.70,325.60) rotate(-90)" font-size="12.7" font-weight="bold" textLength="57.23" lengthAdjust="spacingAndGlyphs">Cells/mm<tspan font-size="8" dy="-5.5">3</tspan></text>
<text x="29.82" y="53.50" font-size="10.2" font-weight="bold" textLength="27.82" lengthAdjust="spacingAndGlyphs">10000</text>
<text x="21.80" y="55.50" font-size="11" font-weight="bold" textLength="5.85" lengthAdjust="spacingAndGlyphs">≥</text>
<text x="34.79" y="104.30" font-size="10.2" font-weight="bold" textLength="23.00" lengthAdjust="spacingAndGlyphs">1000</text>
<text x="41.69" y="153.80" font-size="10.2" font-weight="bold" textLength="13.71" lengthAdjust="spacingAndGlyphs">100</text>
<text x="32.00" y="156.30" font-size="9.6" font-weight="bold" textLength="4.53" lengthAdjust="spacingAndGlyphs">≤</text>
<text x="28.93" y="167.60" font-size="10.3" font-weight="bold" textLength="17.72" lengthAdjust="spacingAndGlyphs">Pre</text>
<text x="59.60" y="167.40" font-size="10.3" font-weight="bold" textLength="5.73" lengthAdjust="spacingAndGlyphs">0</text>
<text x="98.80" y="167.40" font-size="10.3" font-weight="bold" textLength="12.62" lengthAdjust="spacingAndGlyphs">20</text>
<text x="143.20" y="167.40" font-size="10.3" font-weight="bold" textLength="13.24" lengthAdjust="spacingAndGlyphs">40</text>
<text x="187.00" y="167.40" font-size="10.3" font-weight="bold" textLength="12.62" lengthAdjust="spacingAndGlyphs">60</text>
<text x="306.77" y="167.90" font-size="10.3" font-weight="bold" textLength="15.50" lengthAdjust="spacingAndGlyphs">Pre</text>
<text x="336.50" y="167.90" font-size="10.3" font-weight="bold" textLength="6.19" lengthAdjust="spacingAndGlyphs">0</text>
<text x="376.90" y="167.90" font-size="10.3" font-weight="bold" textLength="11.68" lengthAdjust="spacingAndGlyphs">20</text>
<text x="420.10" y="167.90" font-size="10.3" font-weight="bold" textLength="11.26" lengthAdjust="spacingAndGlyphs">40</text>
<text x="463.20" y="167.90" font-size="10.3" font-weight="bold" textLength="11.16" lengthAdjust="spacingAndGlyphs">60</text>
<text x="37.40" y="365.30" font-size="10.6" font-weight="bold" textLength="5.61" lengthAdjust="spacingAndGlyphs">0</text>
<text x="85.40" y="365.30" font-size="10.6" font-weight="bold" textLength="11.80" lengthAdjust="spacingAndGlyphs">20</text>
<text x="136.20" y="365.30" font-size="10.6" font-weight="bold" textLength="11.80" lengthAdjust="spacingAndGlyphs">40</text>
<text x="186.90" y="365.30" font-size="10.6" font-weight="bold" textLength="11.40" lengthAdjust="spacingAndGlyphs">60</text>
<text x="290.40" y="247.00" font-size="10.2" font-weight="bold" textLength="28.34" lengthAdjust="spacingAndGlyphs">10000</text>
<text x="284.20" y="249.00" font-size="10.5" font-weight="bold" textLength="5.29" lengthAdjust="spacingAndGlyphs">≥</text>
<text x="295.60" y="282.70" font-size="10.2" font-weight="bold" textLength="22.78" lengthAdjust="spacingAndGlyphs">1000</text>
<text x="300.28" y="317.70" font-size="10.2" font-weight="bold" textLength="17.42" lengthAdjust="spacingAndGlyphs">100</text>
<text x="305.91" y="351.80" font-size="10.2" font-weight="bold" textLength="11.23" lengthAdjust="spacingAndGlyphs">10</text>
<text x="298.70" y="355.20" font-size="9.8" font-weight="bold" textLength="6.04" lengthAdjust="spacingAndGlyphs">≤</text>
<text x="320.40" y="365.30" font-size="10.3" font-weight="bold" textLength="6.19" lengthAdjust="spacingAndGlyphs">0</text>
<text x="365.00" y="365.30" font-size="10.3" font-weight="bold" textLength="10.74" lengthAdjust="spacingAndGlyphs">20</text>
<text x="411.90" y="365.30" font-size="10.3" font-weight="bold" textLength="11.78" lengthAdjust="spacingAndGlyphs">40</text>
<text x="459.60" y="365.30" font-size="10.3" font-weight="bold" textLength="11.26" lengthAdjust="spacingAndGlyphs">60</text>
<text transform="translate(9.70,560.26) rotate(-90)" font-size="12.4" font-weight="normal" textLength="80.99" lengthAdjust="spacingAndGlyphs">Patient number</text>
<text x="79.84" y="611.30" font-size="8.5" font-weight="normal" textLength="94.86" lengthAdjust="spacingAndGlyphs">IFN-γ secretion (pg/mL)</text>
<text transform="translate(290.40,560.57) rotate(-90)" font-size="12.4" font-weight="normal" textLength="81.30" lengthAdjust="spacingAndGlyphs">Patient number</text>
<text x="360.14" y="611.30" font-size="8.5" font-weight="normal" textLength="94.86" lengthAdjust="spacingAndGlyphs">IFN-γ secretion (pg/mL)</text>
</svg>
</body></html>
